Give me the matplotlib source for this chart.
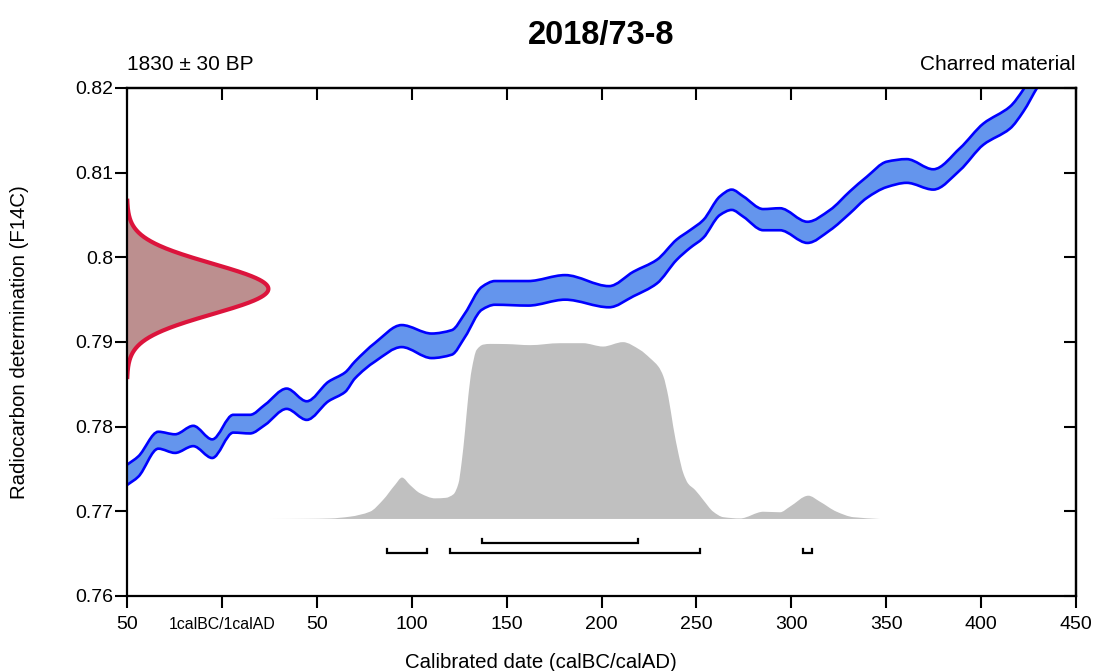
import numpy as np
import matplotlib
matplotlib.use("Agg")
import matplotlib.pyplot as plt
from matplotlib.path import Path
from matplotlib.patches import PathPatch

plt.rcParams['font.family'] = ['Liberation Sans', 'DejaVu Sans']

# ---------------- data ----------------
sample_name = "2018/73-8"
bp_value = 1830
bp_error = 30
material = "Charred material"

# calibration curve band (F14C) : year (calBC negative / calAD positive)
curve_years = [-50, -44.0, -33.5, -24.7, -15.1, -5.1, 6.0, 14.8, 22.7, 34.1, 44.7, 56.1,
               64.9, 70.1, 80.7, 94.7, 110.5, 121.1, 128.1, 136.9, 143.9, 161.4, 180.8,
               204.0, 216.8, 229.1, 239.6, 246.6, 253.6, 262.4, 268.6, 274.7, 285.2,
               294.0, 308.5, 320.4, 330.9, 339.7, 350.3, 360.8, 374.8, 388.9, 401.2,
               415.2, 422.2, 430, 440, 450]
curve_upper = [0.7755, 0.7765, 0.7794, 0.7791, 0.7801, 0.7785, 0.7814, 0.7814, 0.7826,
               0.7845, 0.7830, 0.7853, 0.7864, 0.7877, 0.7899, 0.7920, 0.7910, 0.7914,
               0.7934, 0.7965, 0.7972, 0.7972, 0.7979, 0.7966, 0.7983, 0.7997, 0.8021,
               0.8032, 0.8044, 0.8072, 0.8080, 0.8072, 0.8057, 0.8058, 0.8042, 0.8056,
               0.8078, 0.8095, 0.8113, 0.8116, 0.8104, 0.8129, 0.8158, 0.8178, 0.8198,
               0.8228, 0.8260, 0.8285]
curve_lower = [0.7731, 0.7741, 0.7774, 0.7769, 0.7777, 0.7763, 0.7793, 0.7792, 0.7802,
               0.7821, 0.7808, 0.7830, 0.7841, 0.7857, 0.7877, 0.7894, 0.7881, 0.7885,
               0.7906, 0.7938, 0.7944, 0.7943, 0.7950, 0.7941, 0.7954, 0.7969, 0.7997,
               0.8011, 0.8023, 0.8050, 0.8056, 0.8048, 0.8032, 0.8032, 0.8017, 0.8032,
               0.8052, 0.8070, 0.8083, 0.8088, 0.8080, 0.8103, 0.8133, 0.8152, 0.8172,
               0.8202, 0.8235, 0.8260]

# calibrated probability distribution (relative)
prob_years = [25, 45, 57, 67.5, 78, 84.9, 91.2, 94.9, 99.1, 104.4, 112.3, 118.0, 122.0,
              124.6, 126.3, 128.1, 129.8, 131.6, 134.2, 137.7, 141.3, 150, 162.3, 178.1,
              190.3, 200.8, 211.3, 220.3, 225.6, 230.0, 232.6, 235.2, 237.8, 240.5,
              243.1, 245.7, 249.3, 253.6, 258.9, 264.2, 273, 285.3, 294.1, 299.3, 309.0,
              315.1, 323.9, 332.7, 346.7]
prob_values = [0.0, 0.001, 0.003, 0.013, 0.041, 0.108, 0.193, 0.235, 0.193, 0.146, 0.117,
               0.12, 0.14, 0.20, 0.32, 0.50, 0.695, 0.847, 0.96, 0.99, 0.994, 0.993, 0.987,
               0.998, 0.998, 0.979, 1.004, 0.96, 0.913, 0.865, 0.81, 0.695, 0.524, 0.373,
               0.26, 0.20, 0.165, 0.108, 0.041, 0.01, 0.003, 0.041, 0.038, 0.070, 0.132,
               0.098, 0.041, 0.010, 0.0]

# highest probability density ranges
ranges_68 = [(137, 219)]
ranges_95 = [(87, 108), (120, 252), (306, 311)]

x_ticks = [-50, 0, 50, 100, 150, 200, 250, 300, 350, 400, 450]
x_tick_labels = ["50", "1calBC/1calAD", "50", "100", "150", "200", "250", "300",
                 "350", "400", "450"]
y_ticks = [0.76, 0.77, 0.78, 0.79, 0.80, 0.81, 0.82]
y_tick_labels = ["0.76", "0.77", "0.78", "0.79", "0.8", "0.81", "0.82"]


def smooth_segments(xs, ys):
    """Cubic Bezier control points of a monotone Hermite curve through the points."""
    xs = np.asarray(xs, float)
    ys = np.asarray(ys, float)
    h = np.diff(xs)
    d = np.diff(ys) / h
    m = np.zeros_like(ys)
    m[0], m[-1] = d[0], d[-1]
    for k in range(1, len(xs) - 1):
        if d[k - 1] * d[k] > 0:
            m[k] = 2 * d[k - 1] * d[k] / (d[k - 1] + d[k])
    verts = [(xs[0], ys[0])]
    for k in range(len(xs) - 1):
        verts.append((xs[k] + h[k] / 3, ys[k] + m[k] * h[k] / 3))
        verts.append((xs[k + 1] - h[k] / 3, ys[k + 1] - m[k + 1] * h[k] / 3))
        verts.append((xs[k + 1], ys[k + 1]))
    return verts


def open_path(xs, ys):
    v = smooth_segments(xs, ys)
    codes = [Path.MOVETO] + [Path.CURVE4] * (len(v) - 1)
    return Path(v, codes)


def band_path(xs, lo, hi):
    vu = smooth_segments(xs, hi)
    vl = smooth_segments(xs, lo)[::-1]
    verts = vu + vl + [vu[0]]
    codes = ([Path.MOVETO] + [Path.CURVE4] * (len(vu) - 1) + [Path.LINETO]
             + [Path.CURVE4] * (len(vl) - 1) + [Path.CLOSEPOLY])
    return Path(verts, codes)


# ---------------- figure ----------------
fig = plt.figure(figsize=(10.95, 6.71), dpi=100)
ax = fig.add_axes([127/1095, 1-596/671, 949/1095, 508/671])
ax.set_xlim(-50, 450)
ax.set_ylim(0.76, 0.82)

# probability distribution (grey)
prob_base = 0.7691
prob_scale = 0.0208
pv = prob_base + np.array(prob_values) * prob_scale
ax.add_patch(PathPatch(band_path(prob_years, [prob_base] * len(prob_years), pv),
                       facecolor='#C0C0C0', edgecolor='none', zorder=1))

# calibration curve band
ax.add_patch(PathPatch(band_path(curve_years, curve_lower, curve_upper),
                       facecolor='#6495ED', edgecolor='none', zorder=2))
for series in (curve_upper, curve_lower):
    ax.add_patch(PathPatch(open_path(curve_years, series), facecolor='none',
                           edgecolor='#0000FF', lw=1.9, zorder=3))

# measured radiocarbon determination (gaussian on y axis)
f_mean = np.exp(-bp_value / 8033.0)
f_sigma = f_mean * bp_error / 8033.0
fy = np.linspace(f_mean - 3.5 * f_sigma, f_mean + 3.5 * f_sigma, 400)
fx = -50 + 74.5 * np.exp(-0.5 * ((fy - f_mean) / f_sigma) ** 2)
ax.fill_betweenx(fy, -50, fx, facecolor='#BC8F8F', edgecolor='none', zorder=4)
ax.plot(fx, fy, color='#DC143C', lw=3.0, zorder=5)

# ranges
row_y = {68: 0.76626, 95: 0.76508}
tick_h = 0.00047
for (a, b) in ranges_68:
    ax.plot([a, a, b, b], [row_y[68] + tick_h, row_y[68], row_y[68], row_y[68] + tick_h],
            color='black', lw=1.6, zorder=6, solid_joinstyle='miter')
for (a, b) in ranges_95:
    ax.plot([a, a, b, b], [row_y[95] + tick_h, row_y[95], row_y[95], row_y[95] + tick_h],
            color='black', lw=1.6, zorder=6, solid_joinstyle='miter')

# axes styling
for s in ax.spines.values():
    s.set_linewidth(1.6)
    s.set_zorder(10)

ax.set_xticks(x_ticks, x_tick_labels)
ax.set_yticks(y_ticks, y_tick_labels)
ax.tick_params(axis='x', direction='out', length=8.6, width=1.5, labelsize=14, pad=15.5)
ax.tick_params(axis='y', direction='out', length=9, width=1.5, labelsize=14, pad=1)
for lbl in ax.get_xticklabels():
    lbl.set_va('baseline')
ax.get_xticklabels()[1].set_fontsize(11.4)

secx = ax.secondary_xaxis('top')
secx.set_xticks(x_ticks)
secx.tick_params(axis='x', direction='in', length=8.6, width=1.5, labeltop=False)
secx.spines['top'].set_linewidth(1.6)
secy = ax.secondary_yaxis('right')
secy.set_yticks(y_ticks)
secy.tick_params(axis='y', direction='in', length=8.6, width=1.5, labelright=False)
secy.spines['right'].set_linewidth(1.6)

# texts
fig.text(601.5/1095, 1-44/671, sample_name, ha='center', va='baseline',
         fontsize=23.5, fontweight='bold')
fig.text(127/1095, 1-70/671, f"{bp_value} \u00b1 {bp_error} BP", ha='left',
         va='baseline', fontsize=15)
fig.text(1075/1095, 1-70/671, material, ha='right', va='baseline', fontsize=15)
fig.text(541/1095, 1-668/671, "Calibrated date (calBC/calAD)", ha='center',
         va='baseline', fontsize=14.7)
fig.text(20/1095, 1-342/671, "Radiocarbon determination (F14C)", ha='center',
         va='center', rotation=90, fontsize=14.7)

fig.savefig("out.png", dpi=100)
